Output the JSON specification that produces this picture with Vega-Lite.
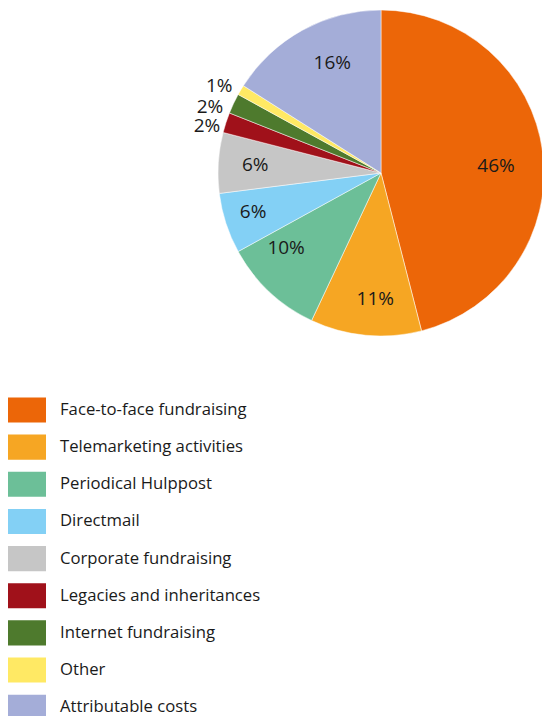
{
  "$schema": "https://vega.github.io/schema/vega-lite/v6.json",
  "width": 326,
  "height": 326,
  "autosize": {"type": "none"},
  "padding": {"left": 218, "top": 10, "right": 0, "bottom": 380},
  "background": "white",
  "config": {"view": {"stroke": null}, "font": "Open Sans", "text": {"fontSize": 19, "font": "Open Sans", "baseline": "middle", "align": "center", "radius": 124}},
  "data": {
    "values": [
      {"order": 1, "category": "Face-to-face fundraising", "share": 0.46},
      {"order": 2, "category": "Telemarketing activities", "share": 0.11},
      {"order": 3, "category": "Periodical Hulppost", "share": 0.10},
      {"order": 4, "category": "Directmail", "share": 0.06},
      {"order": 5, "category": "Corporate fundraising", "share": 0.06},
      {"order": 6, "category": "Legacies and inheritances", "share": 0.02},
      {"order": 7, "category": "Internet fundraising", "share": 0.02},
      {"order": 8, "category": "Other", "share": 0.01},
      {"order": 9, "category": "Attributable costs", "share": 0.16}
    ]
  },
  "encoding": {
    "theta": {"field": "share", "type": "quantitative", "stack": true},
    "order": {"field": "order", "type": "quantitative"},
    "color": {
      "field": "category",
      "type": "nominal",
      "sort": null,
      "scale": {
        "domain": ["Face-to-face fundraising", "Telemarketing activities", "Periodical Hulppost", "Directmail", "Corporate fundraising", "Legacies and inheritances", "Internet fundraising", "Other", "Attributable costs"],
        "range": ["#EC6608", "#F6A623", "#6CBF98", "#83D0F5", "#C6C6C6", "#A0111A", "#4E7A2D", "#FFE964", "#A4ADD8"]
      },
      "legend": {
        "title": null,
        "orient": "none",
        "direction": "vertical",
        "columns": 1,
        "legendX": -210,
        "legendY": 381,
        "padding": 0,
        "symbolType": "M-1,-0.66H1V0.66H-1Z",
        "symbolSize": 1444,
        "symbolStrokeWidth": 0,
        "symbolOpacity": 1,
        "rowPadding": 5.15,
        "labelOffset": 14,
        "labelFontSize": 16.7,
        "labelFont": "Open Sans",
        "labelColor": "#1a1a1a",
        "labelLimit": 400
      }
    }
  },
  "layer": [
    {
      "mark": {"type": "arc", "outerRadius": 163, "stroke": "white", "strokeWidth": 0.5}
    },
    {
      "mark": {"type": "text", "dx": -8, "dy": 8.5},
      "encoding": {
        "text": {"condition": {"test": "datum.order == 1", "field": "share", "type": "quantitative", "format": ".0%"}, "value": ""},
        "color": {"value": "#1a1a1a"}
      }
    },
    {
      "mark": {"type": "text", "dx": 6, "dy": 3},
      "encoding": {
        "text": {"condition": {"test": "datum.order == 2", "field": "share", "type": "quantitative", "format": ".0%"}, "value": ""},
        "color": {"value": "#1a1a1a"}
      }
    },
    {
      "mark": {"type": "text", "dx": -10, "dy": -15},
      "encoding": {
        "text": {"condition": {"test": "datum.order == 3", "field": "share", "type": "quantitative", "format": ".0%"}, "value": ""},
        "color": {"value": "#1a1a1a"}
      }
    },
    {
      "mark": {"type": "text", "dx": -10, "dy": 1},
      "encoding": {
        "text": {"condition": {"test": "datum.order == 4", "field": "share", "type": "quantitative", "format": ".0%"}, "value": ""},
        "color": {"value": "#1a1a1a"}
      }
    },
    {
      "mark": {"type": "text", "dx": -2, "dy": 0},
      "encoding": {
        "text": {"condition": {"test": "datum.order == 5", "field": "share", "type": "quantitative", "format": ".0%"}, "value": ""},
        "color": {"value": "#1a1a1a"}
      }
    },
    {
      "mark": {"type": "text", "dx": 11, "dy": -1},
      "encoding": {
        "text": {"condition": {"test": "datum.order == 9", "field": "share", "type": "quantitative", "format": ".0%"}, "value": ""},
        "color": {"value": "#1a1a1a"}
      }
    },
    {
      "mark": {"type": "text", "radius": 183, "dy": 9.5},
      "encoding": {
        "text": {"condition": {"test": "datum.order == 6", "field": "share", "type": "quantitative", "format": ".0%"}, "value": ""},
        "color": {"value": "#1a1a1a"}
      }
    },
    {
      "mark": {"type": "text", "radius": 189, "dy": 14.5},
      "encoding": {
        "text": {"condition": {"test": "datum.order == 7", "field": "share", "type": "quantitative", "format": ".0%"}, "value": ""},
        "color": {"value": "#1a1a1a"}
      }
    },
    {
      "mark": {"type": "text", "radius": 188, "dy": 9},
      "encoding": {
        "text": {"condition": {"test": "datum.order == 8", "field": "share", "type": "quantitative", "format": ".0%"}, "value": ""},
        "color": {"value": "#1a1a1a"}
      }
    }
  ]
}
